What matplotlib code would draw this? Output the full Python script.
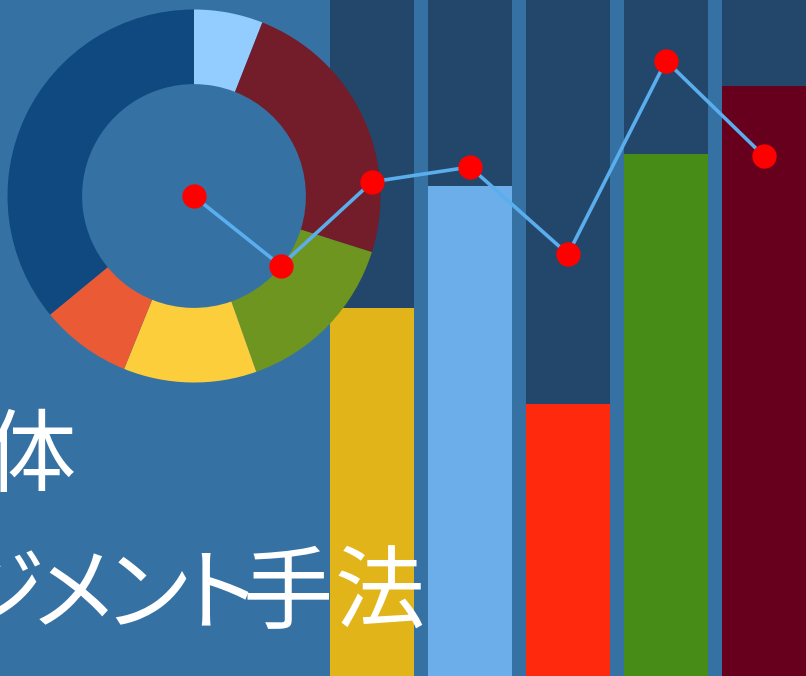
import matplotlib
matplotlib.use("Agg")
import matplotlib.pyplot as plt

# ---- data ----
bar_categories = [0, 1, 2, 3, 4]
bar_values = [54.4, 72.5, 40.2, 77.2, 87.3]
bar_colors = ["#E1B519", "#6CAEE9", "#FF2A0E", "#478C16", "#67001D"]
column_back = [100, 100, 100, 100, 100]

donut_values = [21.5, 86.0, 53.0, 41.5, 28.5, 129.5]
donut_colors = ["#93CDFF", "#731C2A", "#6E9520", "#FCCE3B", "#EA5A35", "#0F4980"]

line_x = [-1.82, -0.93, 0, 1, 2, 3, 4]
line_y = [71.0, 60.7, 73.1, 75.3, 62.4, 91.0, 76.9]

title_line1 = "体"
title_line2 = "ジメント手法"

# ---- layout ----
W, H = 806, 676
BG = "#3572A3"
DARK = "#22476A"
origin_px, unit_px = 372, 98

fig = plt.figure(figsize=(W / 100, H / 100), dpi=100, facecolor=BG)

ax = fig.add_axes([0, 0, 1, 1])
ax.set_facecolor(BG)
ax.set_xlim(-origin_px / unit_px, (W - origin_px) / unit_px)
ax.set_ylim(0, 100)
ax.axis("off")
ax.bar(bar_categories, column_back, width=84 / 98, color=DARK, align="center")
ax.bar(bar_categories, bar_values, width=84 / 98, color=bar_colors, align="center")

# donut
cx, cy, r = 194, 196, 186.5
dax = fig.add_axes([(cx - r) / W, (H - cy - r) / H, 2 * r / W, 2 * r / H])
dax.pie(donut_values, colors=donut_colors, startangle=90, counterclock=False,
        radius=1.0, wedgeprops=dict(width=0.40, edgecolor="none", linewidth=0))
dax.set_xlim(-1, 1)
dax.set_ylim(-1, 1)
dax.axis("off")

# line overlay
lax = fig.add_axes([0, 0, 1, 1])
lax.set_xlim(ax.get_xlim())
lax.set_ylim(ax.get_ylim())
lax.patch.set_alpha(0)
lax.axis("off")
lax.plot(line_x, line_y, color="#5AAEEE", linewidth=2.6, zorder=2)
lax.plot(line_x, line_y, linestyle="none", marker="o", markersize=17.5,
         markerfacecolor="#FF0000", markeredgecolor="none", zorder=3)

# text (proportional kana spacing reproduced by placing glyphs individually)
font = ["Noto Sans CJK JP", "DejaVu Sans"]
fs = 65
line1_x = [30]
line2_x = [0, 74, 147, 216, 288, 380]
base1, base2 = 485, 622
for ch, x in zip(title_line1, line1_x):
    fig.text(x / W, 1 - base1 / H, ch, color="white", fontsize=fs, family=font,
             ha="center", va="baseline")
for ch, x in zip(title_line2, line2_x):
    fig.text(x / W, 1 - base2 / H, ch, color="white", fontsize=fs, family=font,
             ha="center", va="baseline")

fig.savefig("out.png", dpi=100, facecolor=BG)
